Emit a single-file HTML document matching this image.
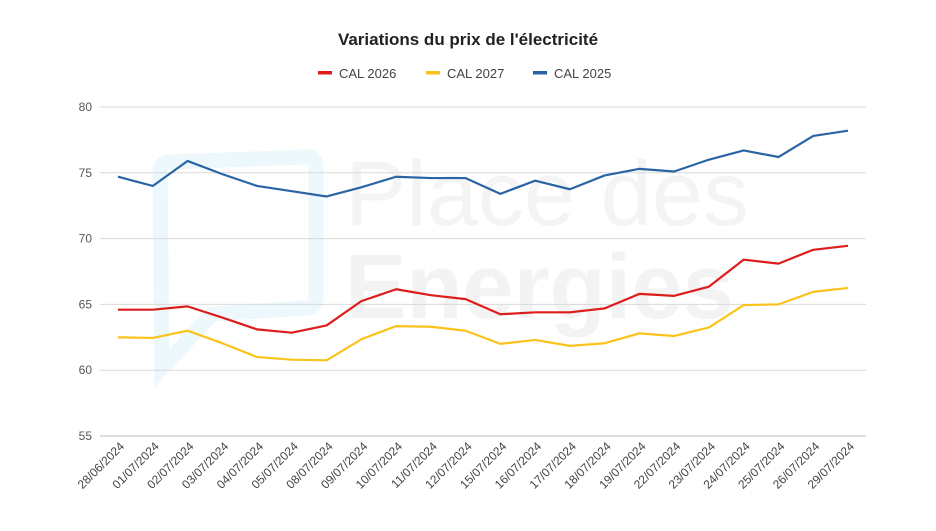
<!DOCTYPE html>
<html><head><meta charset="utf-8"><style>
body{margin:0;background:#fff;width:936px;height:526px;overflow:hidden;font-family:"Liberation Sans",Arial,sans-serif}
</style></head><body>
<svg id="chart" width="936" height="526" xmlns="http://www.w3.org/2000/svg">
<g>
<path d="M170 162 L308 157 Q316 157 316 167 L316 298 Q316 308 306 308 L212 314 L162 368 L160 172 Q160 162 170 162 Z" fill="none" stroke="#ecf8fb" stroke-width="15"/>
<text x="345" y="225" font-size="92" fill="#f4f4f4" font-family="Liberation Sans">Place des</text>
<text x="345" y="318" font-size="92" font-weight="bold" fill="#f3f3f3" font-family="Liberation Sans">Energies</text>
</g>
<text x="468" y="45" text-anchor="middle" font-size="17" font-weight="bold" fill="#222">Variations du prix de l'électricité</text>
<g id="legend" font-size="13" fill="#444"></g>
<g id="grid"></g><g id="series"></g><g id="xlabels"></g>
</svg>
<script>
const categories=["28/06/2024","01/07/2024","02/07/2024","03/07/2024","04/07/2024","05/07/2024","08/07/2024","09/07/2024","10/07/2024","11/07/2024","12/07/2024","15/07/2024","16/07/2024","17/07/2024","18/07/2024","19/07/2024","22/07/2024","23/07/2024","24/07/2024","25/07/2024","26/07/2024","29/07/2024"];
const cal2026=[64.6,64.6,64.85,64.0,63.1,62.85,63.4,65.25,66.15,65.7,65.4,64.25,64.4,64.4,64.7,65.8,65.65,66.35,68.4,68.1,69.15,69.45];
const cal2027=[62.5,62.45,63.0,62.05,61.0,60.8,60.75,62.35,63.35,63.3,63.0,62.0,62.3,61.85,62.05,62.8,62.6,63.25,64.95,65.0,65.95,66.25];
const cal2025=[74.7,74.0,75.9,74.9,74.0,73.6,73.2,73.9,74.7,74.6,74.6,73.4,74.4,73.75,74.8,75.3,75.1,76.0,76.7,76.2,77.8,78.2];
const yTicks=[55,60,65,70,75,80];
const seriesNames=["CAL 2026","CAL 2027","CAL 2025"];
const seriesColors=["#dd1c1c","#fbc21b","#2a64a4"];
const NS="http://www.w3.org/2000/svg";
const x0=118,x1=848,yTop=107,yBot=436;
const xs=i=>x0+i*(x1-x0)/(categories.length-1);
const ys=v=>yBot-(v-55)/(80-55)*(yBot-yTop);
function mk(t,a,p){const e=document.createElementNS(NS,t);for(const k in a)e.setAttribute(k,a[k]);p.appendChild(e);return e;}
const grid=document.getElementById('grid');
yTicks.forEach(t=>{
 const l=mk('line',{x1:100,x2:866,y1:ys(t),y2:ys(t),stroke:t==55?'#bbb':'#d9d9d9','stroke-width':1},grid);
 
 
 const tx=mk('text',{x:92,y:ys(t)+4,'text-anchor':'end','font-size':12,fill:'#555'},grid);
 tx.textContent=t;
 
 
});
const xl=document.getElementById('xlabels');
categories.forEach((c,i)=>{
 const t=mk('text',{x:xs(i)+7,y:447,'text-anchor':'end','font-size':12,fill:'#444',transform:`rotate(-45 ${xs(i)+7} 447)`},xl);
 t.textContent=c;
 
 
});
const sg=document.getElementById('series');
[cal2026,cal2027,cal2025].forEach((d,k)=>{
 const p=mk('polyline',{points:d.map((v,i)=>xs(i)+','+ys(v)).join(' '),fill:'none',stroke:seriesColors[k],'stroke-width':2.2,'stroke-linejoin':'round'},sg);
 
 
});
const lg=document.getElementById('legend');
const lx=[318,426,533];
seriesNames.forEach((n,k)=>{
 const r=mk('rect',{x:lx[k],y:71,width:14,height:3.5,fill:seriesColors[k]},lg);
 
 
 const t=mk('text',{x:lx[k]+21,y:78},lg);
 t.textContent=n;
 
 
});
</script>
</body></html>
